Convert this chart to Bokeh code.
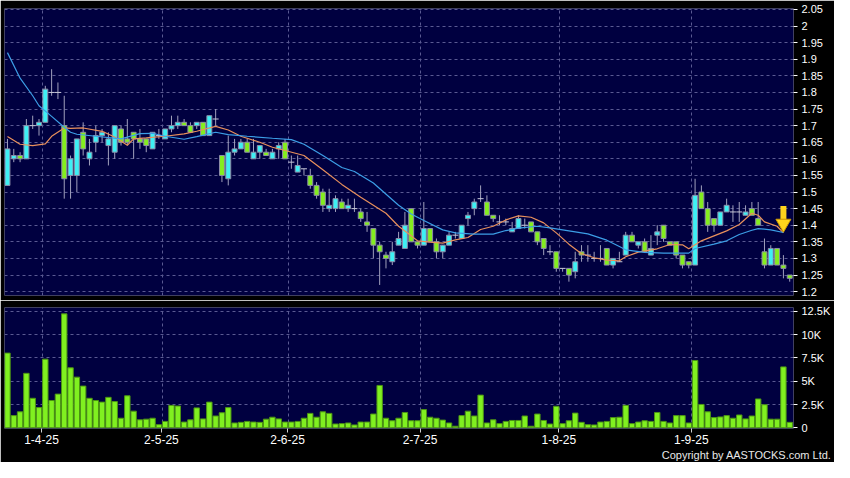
from bokeh.plotting import figure
from bokeh.models import FixedTicker, Range1d, ColumnDataSource, Title
from bokeh.layouts import column
from bokeh.embed import file_html
from bokeh.resources import INLINE

# ---------------- data ----------------
opens = [1.52, 1.60, 1.61, 1.60, 1.70, 1.70, 1.71, 1.80, 1.80, 1.70,
         1.55, 1.55, 1.68, 1.60, 1.65, 1.67, 1.64, 1.62, 1.69, 1.66,
         1.68, 1.66, 1.66, 1.63, 1.67, 1.66, 1.69, 1.70, 1.71, 1.70,
         1.70, 1.71, 1.67, 1.72, 1.61, 1.54, 1.62, 1.63, 1.65, 1.60,
         1.62, 1.62, 1.60, 1.63, 1.65, 1.59, 1.56, 1.57, 1.55, 1.52,
         1.50, 1.45, 1.45, 1.47, 1.45, 1.45, 1.44, 1.41, 1.39, 1.34,
         1.31, 1.29, 1.34, 1.33, 1.45, 1.35, 1.34, 1.39, 1.35, 1.32,
         1.34, 1.37, 1.36, 1.42, 1.45, 1.48, 1.47, 1.43, 1.41, 1.41,
         1.38, 1.39, 1.40, 1.41, 1.38, 1.36, 1.32, 1.32, 1.27, 1.27,
         1.26, 1.32, 1.31, 1.30, 1.30, 1.33, 1.28, 1.29, 1.31, 1.37,
         1.34, 1.35, 1.31, 1.37, 1.40, 1.35, 1.35, 1.31, 1.29, 1.28,
         1.50, 1.45, 1.42, 1.40, 1.44, 1.44, 1.44, 1.43, 1.45, 1.42,
         1.32, 1.28, 1.33, 1.28, 1.25]
highs = [1.66, 1.63, 1.62, 1.72, 1.73, 1.72, 1.82, 1.87, 1.83, 1.79,
         1.61, 1.66, 1.71, 1.66, 1.70, 1.69, 1.68, 1.70, 1.70, 1.72,
         1.68, 1.69, 1.66, 1.68, 1.69, 1.69, 1.73, 1.73, 1.72, 1.71,
         1.71, 1.71, 1.73, 1.75, 1.61, 1.67, 1.66, 1.66, 1.66, 1.66,
         1.64, 1.63, 1.63, 1.65, 1.66, 1.61, 1.61, 1.57, 1.57, 1.53,
         1.51, 1.51, 1.49, 1.48, 1.48, 1.48, 1.45, 1.44, 1.39, 1.35,
         1.32, 1.35, 1.38, 1.44, 1.45, 1.35, 1.47, 1.39, 1.36, 1.34,
         1.38, 1.38, 1.40, 1.44, 1.48, 1.52, 1.49, 1.43, 1.43, 1.42,
         1.41, 1.43, 1.42, 1.41, 1.38, 1.36, 1.34, 1.32, 1.27, 1.27,
         1.32, 1.34, 1.34, 1.32, 1.34, 1.33, 1.30, 1.32, 1.38, 1.38,
         1.35, 1.36, 1.37, 1.40, 1.40, 1.35, 1.35, 1.31, 1.29, 1.54,
         1.52, 1.47, 1.42, 1.44, 1.48, 1.46, 1.47, 1.46, 1.47, 1.47,
         1.36, 1.34, 1.33, 1.31, 1.25]
lows = [1.52, 1.59, 1.59, 1.60, 1.69, 1.67, 1.71, 1.79, 1.78, 1.48,
        1.48, 1.50, 1.61, 1.58, 1.62, 1.65, 1.58, 1.60, 1.64, 1.64,
        1.60, 1.63, 1.62, 1.63, 1.66, 1.66, 1.68, 1.69, 1.70, 1.68,
        1.69, 1.67, 1.67, 1.70, 1.53, 1.52, 1.61, 1.63, 1.62, 1.60,
        1.60, 1.61, 1.60, 1.60, 1.60, 1.57, 1.56, 1.55, 1.51, 1.48,
        1.44, 1.44, 1.44, 1.45, 1.44, 1.44, 1.41, 1.38, 1.30, 1.22,
        1.27, 1.28, 1.34, 1.33, 1.35, 1.33, 1.34, 1.35, 1.30, 1.30,
        1.34, 1.36, 1.36, 1.40, 1.43, 1.47, 1.43, 1.41, 1.40, 1.40,
        1.38, 1.39, 1.39, 1.38, 1.34, 1.31, 1.31, 1.26, 1.26, 1.23,
        1.24, 1.29, 1.29, 1.29, 1.29, 1.28, 1.27, 1.29, 1.31, 1.35,
        1.33, 1.32, 1.31, 1.34, 1.35, 1.34, 1.30, 1.27, 1.27, 1.28,
        1.45, 1.38, 1.38, 1.40, 1.44, 1.41, 1.41, 1.43, 1.43, 1.40,
        1.27, 1.28, 1.28, 1.24, 1.23]
closes = [1.63, 1.61, 1.60, 1.70, 1.70, 1.71, 1.81, 1.80, 1.80, 1.54,
          1.60, 1.66, 1.63, 1.62, 1.67, 1.68, 1.66, 1.70, 1.65, 1.65,
          1.66, 1.65, 1.64, 1.68, 1.67, 1.69, 1.70, 1.71, 1.70, 1.68,
          1.71, 1.67, 1.73, 1.72, 1.55, 1.62, 1.63, 1.65, 1.62, 1.62,
          1.64, 1.61, 1.62, 1.64, 1.60, 1.59, 1.58, 1.57, 1.52, 1.49,
          1.46, 1.46, 1.48, 1.45, 1.46, 1.45, 1.42, 1.40, 1.34, 1.32,
          1.30, 1.32, 1.36, 1.40, 1.35, 1.34, 1.39, 1.35, 1.32, 1.34,
          1.37, 1.37, 1.40, 1.43, 1.47, 1.48, 1.43, 1.42, 1.41, 1.41,
          1.39, 1.42, 1.40, 1.38, 1.35, 1.33, 1.32, 1.27, 1.27, 1.25,
          1.29, 1.31, 1.31, 1.30, 1.30, 1.28, 1.30, 1.29, 1.37, 1.35,
          1.35, 1.32, 1.33, 1.38, 1.36, 1.34, 1.31, 1.28, 1.28, 1.49,
          1.45, 1.40, 1.40, 1.44, 1.46, 1.44, 1.44, 1.44, 1.43, 1.40,
          1.28, 1.33, 1.28, 1.27, 1.24]
volumes_k = [8.02, 1.31, 1.72, 5.85, 3.17, 2.17, 7.37, 2.93, 3.62, 12.23,
             6.44, 5.44, 4.48, 3.17, 2.93, 2.76, 3.27, 2.82, 1.03, 3.44,
             1.79, 0.86, 0.93, 1.03, 0.34, 0.69, 2.41, 2.34, 0.62, 0.86,
             2.14, 0.96, 2.76, 1.27, 1.62, 2.17, 0.52, 0.59, 0.69, 0.62,
             0.59, 0.93, 1.14, 0.96, 0.62, 0.62, 0.69, 1.03, 1.55, 1.14,
             1.72, 1.55, 0.41, 0.45, 0.52, 0.31, 0.62, 0.62, 1.48, 4.55,
             1.03, 0.76, 1.03, 1.65, 0.76, 0.76, 1.96, 1.14, 1.03, 0.83,
             0.52, 0.17, 1.31, 1.79, 1.27, 3.51, 0.52, 0.86, 0.45, 0.69,
             0.79, 0.79, 1.27, 0.17, 1.48, 0.79, 0.41, 2.31, 0.45, 0.76,
             1.58, 0.59, 0.34, 0.31, 0.62, 0.69, 1.10, 1.14, 2.41, 0.45,
             0.62, 0.76, 0.69, 1.65, 0.69, 0.52, 1.31, 1.31, 0.52, 7.23,
             2.51, 1.72, 1.10, 1.17, 1.31, 1.03, 1.38, 0.96, 1.27, 3.10,
             2.48, 0.93, 0.93, 6.54, 0.59]

ma_short_idx = [0, 2, 4, 6, 7, 9, 10, 12, 15, 17, 19, 20, 22, 25, 28, 30, 33, 35, 37, 40,
                42, 44, 47, 50, 53, 56, 60, 62, 64, 65, 67, 69, 71, 73, 75, 77, 79, 81, 83, 85,
                87, 89, 91, 93, 95, 97, 98, 100, 103, 105, 107, 108, 110, 112, 114, 116, 118,
                119, 120, 122, 123]
ma_short_val = [1.667, 1.644, 1.640, 1.645, 1.668, 1.693, 1.692, 1.693, 1.683, 1.666,
                1.641, 1.660, 1.663, 1.668, 1.675, 1.683, 1.698, 1.687, 1.668, 1.650,
                1.635, 1.625, 1.610, 1.567, 1.523, 1.484, 1.436, 1.397, 1.368, 1.353,
                1.349, 1.346, 1.356, 1.363, 1.387, 1.397, 1.416, 1.428, 1.424, 1.407,
                1.377, 1.343, 1.314, 1.302, 1.295, 1.293, 1.305, 1.319, 1.329, 1.342,
                1.341, 1.329, 1.353, 1.368, 1.383, 1.402, 1.436, 1.430, 1.410, 1.397,
                1.377]
ma_long_idx = [0, 2, 4, 5, 7, 9, 10, 11, 14, 18, 21, 23, 25, 28, 30, 33, 35, 38, 42, 45,
               47, 50, 53, 55, 58, 62, 64, 66, 69, 71, 74, 77, 79, 81, 84, 86, 89, 92, 95, 97,
               98, 101, 104, 108, 109, 112, 114, 116, 118, 119, 121, 123]
ma_long_val = [1.920, 1.843, 1.790, 1.760, 1.728, 1.695, 1.680, 1.674, 1.668, 1.660,
               1.676, 1.677, 1.668, 1.659, 1.667, 1.680, 1.673, 1.668, 1.662, 1.658,
               1.644, 1.610, 1.574, 1.562, 1.527, 1.460, 1.434, 1.414, 1.386, 1.377,
               1.373, 1.373, 1.384, 1.391, 1.397, 1.392, 1.383, 1.374, 1.355, 1.336,
               1.326, 1.318, 1.316, 1.316, 1.330, 1.343, 1.353, 1.372, 1.385, 1.390,
               1.386, 1.378]

month_start_idx = [6, 25, 45, 66, 88, 109]
month_labels = ["1-4-25", "2-5-25", "2-6-25", "2-7-25", "1-8-25", "1-9-25"]
price_tick_labels = ["1.2", "1.25", "1.3", "1.35", "1.4", "1.45", "1.5", "1.55", "1.6",
                     "1.65", "1.7", "1.75", "1.8", "1.85", "1.9", "1.95", "2", "2.05"]
vol_tick_values = [0, 2.5, 5, 7.5, 10, 12.5]
vol_tick_labels = ["0", "2.5K", "5K", "7.5K", "10K", "12.5K"]

# ---------------- styling ----------------
BG = "#000040"
OUT = "#000000"
GRID = "#5a5a92"
UP = "#3ef0f4"
DOWN = "#84ee1e"
EDGE = "#8c8ca8"
WICK = "#a0a0bc"
VOL_FILL = "#80f020"
VOL_EDGE = "#4c9414"
MA_SHORT = "#e8905c"
MA_LONG = "#3c9ee6"
ARROW = "#ffd41c"
FONT = "Liberation Sans"

n = len(opens)
idx = list(range(n))
x_range = Range1d(-0.47, n - 0.4)

price_ticks = [float(s) for s in price_tick_labels]
grid_x = [m - 0.5 for m in month_start_idx]
label_x = [m - 0.6 for m in month_start_idx]


def style_grid(p):
    for g in (p.xgrid, p.ygrid):
        g.grid_line_color = GRID
        g.grid_line_dash = "3 3"
        g.grid_line_width = 1


def style_right_axis(a):
    a.axis_line_color = None
    a.major_tick_line_color = "#ffffff"
    a.major_tick_out = 4
    a.major_tick_in = 0
    a.minor_tick_line_color = None
    a.major_label_standoff = 4
    a.major_label_text_color = "#ffffff"
    a.major_label_text_font = FONT
    a.major_label_text_font_size = "11px"


# ---------------- price panel ----------------
p1 = figure(width=834, height=300, x_range=x_range, y_range=Range1d(1.1883, 2.0529),
            output_backend="svg", toolbar_location=None, x_axis_location=None,
            y_axis_location="right", min_border_left=4, min_border_right=41,
            min_border_top=8, min_border_bottom=5, background_fill_color=BG,
            border_fill_color=OUT, outline_line_color=None)
p1.xgrid.ticker = FixedTicker(ticks=grid_x)
p1.ygrid.ticker = FixedTicker(ticks=price_ticks)
style_grid(p1)

ax = p1.yaxis[0]
ax.ticker = FixedTicker(ticks=price_ticks)
ax.major_label_overrides = {v: s for v, s in zip(price_ticks, price_tick_labels)}
style_right_axis(ax)

body_src = ColumnDataSource(dict(
    x=[i for i in idx if opens[i] != closes[i]],
    top=[max(opens[i], closes[i]) for i in idx if opens[i] != closes[i]],
    bot=[min(opens[i], closes[i]) for i in idx if opens[i] != closes[i]],
    color=[UP if closes[i] > opens[i] else DOWN for i in idx if opens[i] != closes[i]],
))
doji_src = ColumnDataSource(dict(
    x=[i for i in idx if opens[i] == closes[i]],
    y=[opens[i] for i in idx if opens[i] == closes[i]],
))
wick_src = ColumnDataSource(dict(x=idx, h=highs, l=lows))

p1.segment(x0="x", y0="h", x1="x", y1="l", source=wick_src, line_color=WICK, line_width=1)
p1.vbar(x="x", width=0.78, top="top", bottom="bot", source=body_src,
        fill_color="color", line_color=EDGE, line_width=1)
p1.scatter(x="x", y="y", source=doji_src, marker="dash", size=6, line_color="#c8c8d8",
           line_width=1)

p1.line(ma_short_idx, ma_short_val, line_color=MA_SHORT, line_width=1.2)
p1.line(ma_long_idx, ma_long_val, line_color=MA_LONG, line_width=1.2)

# yellow arrow marking the last moving-average point
ax_x = ma_long_idx[-1]
base = ma_long_val[-1]
p1.segment(x0=[ax_x], y0=[base + 0.080], x1=[ax_x], y1=[base + 0.036],
           line_color=ARROW, line_width=6)
p1.scatter(x=[ax_x], y=[base + 0.027], marker="inverted_triangle", size=15,
           fill_color=ARROW, line_color="#d09a00", line_width=1)

# ---------------- volume panel ----------------
p2 = figure(width=834, height=162, x_range=x_range, y_range=Range1d(-0.072, 12.913),
            output_backend="svg", toolbar_location=None, x_axis_location="below",
            y_axis_location="right", min_border_left=4, min_border_right=41,
            min_border_top=7, min_border_bottom=34, background_fill_color=BG,
            border_fill_color=OUT, outline_line_color=None)
p2.xgrid.ticker = FixedTicker(ticks=grid_x)
p2.ygrid.ticker = FixedTicker(ticks=vol_tick_values)
style_grid(p2)

p2.vbar(x=idx, width=0.86, top=volumes_k, bottom=0, fill_color=VOL_FILL,
        line_color=VOL_EDGE, line_width=1)

vax = p2.yaxis[0]
vax.ticker = FixedTicker(ticks=vol_tick_values)
vax.major_label_overrides = {v: s for v, s in zip(vol_tick_values, vol_tick_labels)}
style_right_axis(vax)

xax = p2.xaxis[0]
xax.ticker = FixedTicker(ticks=label_x)
xax.major_label_overrides = {v: s for v, s in zip(label_x, month_labels)}
xax.axis_line_color = None
xax.major_tick_line_color = "#d0d0d0"
xax.major_tick_out = 4
xax.major_tick_in = 0
xax.minor_tick_line_color = None
xax.major_label_standoff = 2
xax.major_label_text_color = "#ffffff"
xax.major_label_text_font = FONT
xax.major_label_text_font_size = "12px"

p2.add_layout(Title(text="Copyright by AASTOCKS.com Ltd.", align="right", offset=-38,
                    standoff=0, text_color="#e8e8e8", text_font=FONT,
                    text_font_size="11px", text_font_style="normal"), "below")

layout = column(p1, p2)
open("out.html", "w").write(file_html(layout, INLINE))
